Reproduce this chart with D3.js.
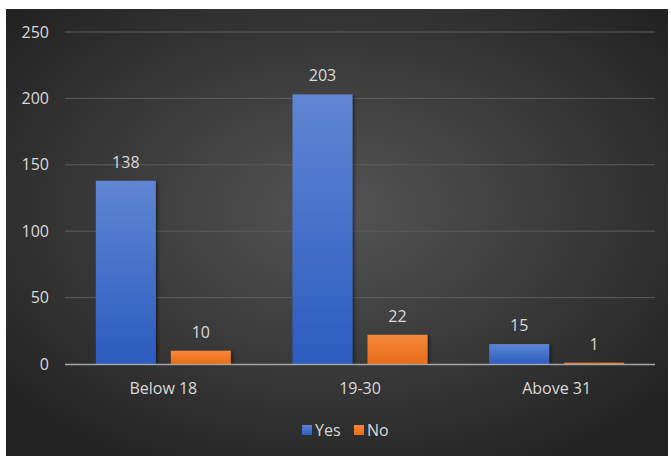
<!DOCTYPE html>
<html>
<head>
<meta charset="utf-8">
<script src="https://cdn.jsdelivr.net/npm/d3@7"></script>
<style>
  body { margin: 0; background: #fff; }
  text { font-family: "Open Sans", sans-serif; fill: #d9d9d9; }
</style>
</head>
<body>
<div id="chart"></div>
<script>
// chart data
const categories = ["Below 18", "19-30", "Above 31"];
const seriesNames = ["Yes", "No"];
const yesValues = [138, 203, 15];
const noValues = [10, 22, 1];
const yTicks = [0, 50, 100, 150, 200, 250];

const width = 671, height = 456;
const svg = d3.select('#chart').append('svg')
    .attr('width', width)
    .attr('height', height);

let defs = svg.append('defs');

// background radial gradient (lighter middle, dark corners)
let bg = defs.append('radialGradient').attr('id', 'bg')
    .attr('cx', '50%').attr('cy', '45%').attr('r', '65%');
bg.append('stop').attr('offset', '0%').attr('stop-color', '#545454');
bg.append('stop').attr('offset', '100%').attr('stop-color', '#232323');

let blue = defs.append('linearGradient').attr('id', 'gYes')
    .attr('x1', 0).attr('y1', 0).attr('x2', 0).attr('y2', 1);
blue.append('stop').attr('offset', '0%').attr('stop-color', '#5f86d3');
blue.append('stop').attr('offset', '100%').attr('stop-color', '#2c5cc0');

let orange = defs.append('linearGradient').attr('id', 'gNo')
    .attr('x1', 0).attr('y1', 0).attr('x2', 0).attr('y2', 1);
orange.append('stop').attr('offset', '0%').attr('stop-color', '#f5883a');
orange.append('stop').attr('offset', '100%').attr('stop-color', '#e86c18');

let shadow = defs.append('filter').attr('id', 'shadow')
    .attr('x', '-20%').attr('y', '-20%').attr('width', '150%').attr('height', '150%');
shadow.append('feDropShadow').attr('dx', 2).attr('dy', 1).attr('stdDeviation', 1.5)
    .attr('flood-color', '#000').attr('flood-opacity', 0.45);

svg.append('rect')
    .attr('x', 6).attr('y', 9)
    .attr('width', 662).attr('height', height - 9)
    .attr('fill', 'url(#bg)');

const plot = { left: 65, right: 655, top: 32, bottom: 364 };

let x0 = d3.scaleBand()
    .domain(categories)
    .range([plot.left, plot.right])
    .paddingInner(0)
    .paddingOuter(0);

// two bars of 60px with 15px between, centred in each category
const barW = 60, barGap = 15;
let x1 = d3.scaleOrdinal()
    .domain(seriesNames)
    .range([-(barW + barGap / 2), barGap / 2]);

let y = d3.scaleLinear()
    .domain([0, 250])
    .range([plot.bottom, plot.top]);

// gridlines
svg.append('g')
    .selectAll('line')
    .data(yTicks.filter(d => d > 0))
    .enter().append('line')
    .attr('x1', plot.left).attr('x2', plot.right)
    .attr('y1', d => y(d)).attr('y2', d => y(d))
    .attr('stroke', '#5e5e5e').attr('stroke-width', 1);

// y axis labels
let yAxis = d3.axisLeft(y).tickValues(yTicks).tickSize(0).tickPadding(0);
let ya = svg.append('g')
    .attr('transform', `translate(${plot.left - 16},0)`)
    .call(yAxis);
ya.select('.domain').remove();
ya.selectAll('text')
    .attr('fill', '#d9d9d9')
    .style('font-size', '16px')
    .style('font-family', '"Open Sans", sans-serif');

const series = [
    { name: 'Yes', values: yesValues, fill: 'url(#gYes)' },
    { name: 'No', values: noValues, fill: 'url(#gNo)' }
];

series.forEach(s => {
    let g = svg.append('g').attr('class', 'series-' + s.name);
    g.selectAll('rect')
        .data(categories)
        .enter().append('rect')
        .attr('x', (d) => x0(d) + x0.bandwidth() / 2 + x1(s.name))
        .attr('y', (d, i) => y(s.values[i]))
        .attr('width', barW)
        .attr('height', (d, i) => y(0) - y(s.values[i]))
        .attr('fill', s.fill)
        .attr('filter', 'url(#shadow)');

    g.selectAll('text')
        .data(categories)
        .enter().append('text')
        .attr('x', (d) => x0(d) + x0.bandwidth() / 2 + x1(s.name) + barW / 2)
        .attr('y', (d, i) => y(s.values[i]) - 13)
        .attr('text-anchor', 'middle')
        .style('font-size', '16px')
        .text((d, i) => s.values[i]);
});

// baseline
svg.append('line')
    .attr('x1', plot.left).attr('x2', plot.right)
    .attr('y1', y(0) + 0.5).attr('y2', y(0) + 0.5)
    .attr('stroke', '#a6a6a6').attr('stroke-width', 1.5);

// category labels
let xAxis = d3.axisBottom(x0).tickSize(0).tickPadding(0);
let xa = svg.append('g')
    .attr('transform', `translate(0,${plot.bottom + 30})`)
    .call(xAxis);
xa.select('.domain').remove();
xa.selectAll('text')
    .attr('fill', '#d9d9d9')
    .attr('dy', 0)
    .style('font-size', '16px')
    .style('font-family', '"Open Sans", sans-serif');

// legend
let legend = svg.append('g').attr('transform', 'translate(302,430)');
let items = legend.selectAll('g')
    .data(series)
    .enter().append('g')
    .attr('transform', (d, i) => `translate(${i * 52},0)`);
items.append('rect')
    .attr('x', 0).attr('y', -5)
    .attr('width', 10).attr('height', 10)
    .attr('fill', d => d.fill);
items.append('text')
    .attr('x', 13).attr('y', 6)
    .style('font-size', '16px')
    .text(d => d.name);
</script>
</body>
</html>
